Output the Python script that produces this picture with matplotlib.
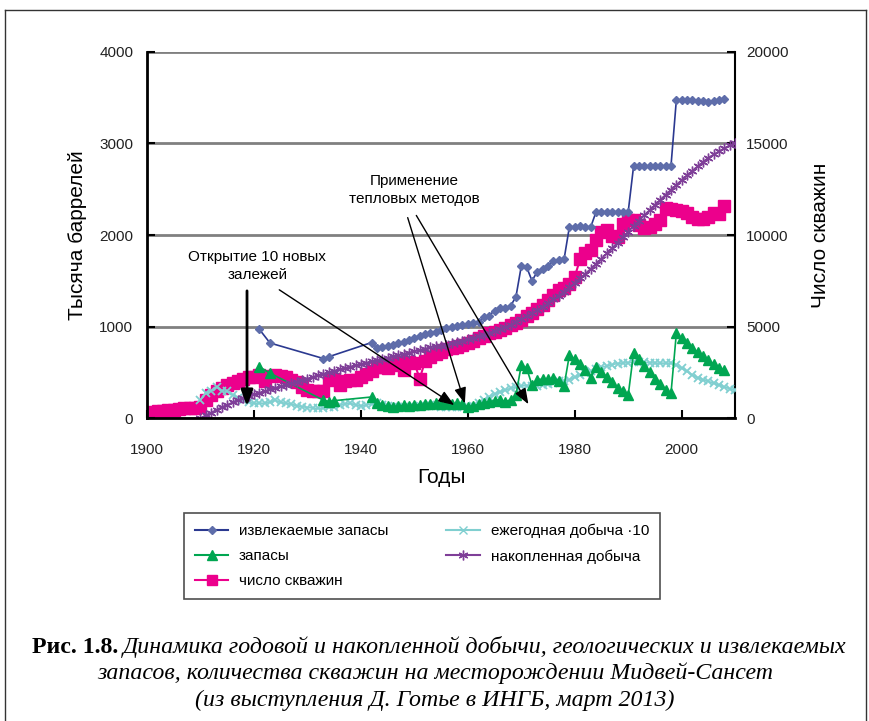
import matplotlib
matplotlib.use("Agg")
import matplotlib.pyplot as plt
from matplotlib.lines import Line2D

plt.rcParams['font.family'] = ['Liberation Sans', 'DejaVu Sans']

# извлекаемые запасы
rec_years = [1921, 1923, 1933, 1934, 1942, 1943, 1944, 1945, 1946, 1947, 1948, 1949,
             1950, 1951, 1952, 1953, 1954, 1955, 1956, 1957, 1958, 1959, 1960, 1961,
             1962, 1963, 1964, 1965, 1966, 1967, 1968, 1969, 1970, 1971, 1972, 1973,
             1974, 1975, 1976, 1977, 1978, 1979, 1980, 1981, 1982, 1983, 1984, 1985,
             1986, 1987, 1988, 1989, 1990, 1991, 1992, 1993, 1994, 1995, 1996, 1997,
             1998, 1999, 2000, 2001, 2002, 2003, 2004, 2005, 2006, 2007, 2008]
rec_vals = [970, 820, 650, 670, 825, 765, 780, 790, 800, 820, 830, 850,
            880, 900, 920, 930, 935, 960, 980, 1000, 1010, 1020, 1025, 1035,
            1050, 1100, 1120, 1175, 1205, 1200, 1225, 1325, 1660, 1650, 1500, 1600,
            1630, 1660, 1715, 1725, 1735, 2090, 2090, 2095, 2090, 2090, 2255, 2255,
            2255, 2255, 2255, 2255, 2255, 2750, 2750, 2755, 2750, 2750, 2750, 2750,
            2755, 3475, 3470, 3470, 3475, 3465, 3460, 3455, 3465, 3470, 3490]

# запасы
res_years = [1921, 1923, 1933, 1934, 1935, 1942, 1943, 1944, 1945, 1946, 1947, 1948,
             1949, 1950, 1951, 1952, 1953, 1954, 1955, 1956, 1957, 1958, 1959, 1960,
             1961, 1962, 1963, 1964, 1965, 1966, 1967, 1968, 1969, 1970, 1971, 1972,
             1973, 1974, 1975, 1976, 1977, 1978, 1979, 1980, 1981, 1982, 1983, 1984,
             1985, 1986, 1987, 1988, 1989, 1990, 1991, 1992, 1993, 1994, 1995, 1996,
             1997, 1998, 1999, 2000, 2001, 2002, 2003, 2004, 2005, 2006, 2007, 2008]
res_vals = [560, 490, 195, 180, 190, 230, 160, 140, 130, 125, 130, 140,
            130, 145, 140, 150, 150, 160, 150, 160, 150, 165, 150, 125,
            130, 150, 165, 180, 190, 200, 180, 200, 250, 580, 545, 360,
            420, 425, 425, 435, 410, 350, 690, 640, 590, 530, 440, 560,
            500, 450, 390, 330, 290, 250, 710, 640, 570, 500, 430, 370,
            310, 270, 925, 870, 820, 770, 720, 675, 630, 590, 550, 520]

# число скважин (правая ось)
well_years = list(range(1900, 2009))
well_vals = [250, 325, 375, 400, 425, 450, 475, 550, 575, 575,
             600, 1000, 1250, 1500, 1650, 1800, 1900, 2025, 2150, 2225,
             2250, 2350, 2000, 2300, 2350, 2275, 2250, 2100, 1975, 1700,
             1550, 1450, 1500, 1475, 2075, 2150, 1825, 2000, 2075, 2100,
             2250, 2400, 2550, 2800, 2800, 2725, 2900, 3075, 2625, 3075,
             3000, 2150, 3100, 3350, 3500, 3625, 3750, 3825, 3900, 3975,
             4075, 4200, 4350, 4500, 4625, 4725, 4800, 4925, 5075, 5200,
             5350, 5550, 5725, 5950, 6175, 6450, 6725, 7000, 7100, 7350,
             7725, 8675, 9000, 9175, 9725, 10175, 10300, 9950, 9900, 10625,
             10825, 10800, 10550, 10375, 10450, 10600, 10825, 11450, 11400, 11350,
             11300, 11200, 11000, 10850, 10900, 10975, 11200, 11175, 11600]

# ежегодная добыча x10 и накопленная добыча
prod_years = list(range(1910, 2011))
annual_vals = [200, 270, 300, 340, 300, 290, 250, 220, 195, 175,
               160, 165, 160, 175, 195, 170, 160, 150, 135, 125,
               115, 110, 105, 110, 120, 125, 140, 155, 160, 145,
               130, 140, 155, 160, 145, 130, 125, 125, 125, 120,
               125, 130, 135, 140, 130, 125, 125, 120, 120, 125,
               125, 135, 160, 195, 230, 260, 285, 305, 325, 340,
               350, 355, 350, 355, 360, 370, 385, 400, 410, 420,
               445, 470, 490, 510, 535, 555, 570, 585, 595, 600,
               605, 610, 612, 610, 605, 600, 600, 600, 600, 580,
               545, 510, 470, 440, 420, 400, 380, 360, 340, 320, 305]
cum_vals = [0, 30, 60, 90, 120, 145, 170, 195, 220, 240,
            258, 276, 294, 312, 330, 347, 364, 381, 398, 415,
            432, 449, 466, 483, 500, 516, 531, 546, 561, 576,
            590, 604, 618, 632, 646, 660, 674, 688, 702, 716,
            730, 744, 758, 772, 786, 790, 803, 816, 830, 845,
            860, 876, 893, 911, 930, 950, 972, 996, 1022, 1050,
            1080, 1112, 1146, 1181, 1218, 1256, 1296, 1338, 1382, 1428,
            1476, 1526, 1578, 1632, 1687, 1743, 1800, 1858, 1917, 1977,
            2037, 2097, 2156, 2215, 2273, 2330, 2386, 2441, 2495, 2548,
            2600, 2652, 2703, 2752, 2800, 2846, 2880, 2915, 2950, 2980, 3005]

fig = plt.figure(figsize=(8.7, 7.21), dpi=100)
ax = fig.add_axes([0.169, 0.4202, 0.676, 0.5077])
ax2 = ax.twinx()
ax.set_zorder(ax2.get_zorder() + 1)
ax.patch.set_visible(False)

c_blue, c_blue_m = '#2B3990', '#5E6DAA'
c_green = '#00A651'
c_pink = '#EC008C'
c_teal = '#80CFD0'
c_purple = '#7F3F98'

ax2.plot(well_years, well_vals, color=c_pink, lw=1.5, marker='s', ms=8,
         mec=c_pink, mfc=c_pink)
ax.plot(prod_years, annual_vals, color=c_teal, lw=1.2, marker='x', ms=6, mew=1.3)
ax.plot(res_years, res_vals, color=c_green, lw=1.2, marker='^', ms=7, mec=c_green)
ax.plot(prod_years, cum_vals, color=c_purple, lw=1.2, marker=(6, 2, 0), ms=7, mew=1.0)
ax.plot(rec_years, rec_vals, color=c_blue, lw=1.2, marker='D', ms=4,
        mfc=c_blue_m, mec=c_blue_m)

ax.set_xlim(1900, 2010)
ax.set_ylim(0, 4000)
ax2.set_ylim(0, 20000)
ax.set_xticks(range(1900, 2001, 20))
ax.set_yticks(range(0, 4001, 1000))
ax2.set_yticks(range(0, 20001, 5000))
ax2.grid(axis='y', color='#808080', lw=2)
ax2.set_axisbelow(True)

for a in (ax, ax2):
    a.spines['top'].set_visible(False)
    a.tick_params(direction='in', labelsize=11, labelcolor='#222222', width=1.5, length=6)
ax.tick_params(axis='x', pad=18)
ax.tick_params(axis='y', pad=10)
ax2.tick_params(axis='y', pad=8)
ax.spines['left'].set_linewidth(2)
ax.spines['bottom'].set_linewidth(2)
ax2.spines['right'].set_linewidth(1.5)
ax.spines['right'].set_visible(False)
ax2.spines['left'].set_visible(False)
ax2.spines['bottom'].set_visible(False)

ax.set_xlabel('Годы', fontsize=15, labelpad=8)
ax.set_ylabel('Тысяча баррелей', fontsize=15, labelpad=9)
ax2.set_ylabel('Число скважин', fontsize=15, labelpad=16)

# подписи со стрелками
ax.text(1920.6, 1661, 'Открытие 10 новых\nзалежей', ha='center', va='center',
        fontsize=11, linespacing=1.4)
ax.text(1950.0, 2490, 'Применение\nтепловых методов', ha='center', va='center',
        fontsize=11, linespacing=1.4)
head = '-|>,head_length=0.8,head_width=0.3'
ax.annotate('', xy=(1918.7, 100), xytext=(1918.7, 1420),
            arrowprops=dict(arrowstyle=head, color='black', lw=2, mutation_scale=12))
for start, tip in [((1924.3, 1418), (1957.9, 125)),
                   ((1948.6, 2219), (1959.6, 130)),
                   ((1950.1, 2240), (1971.6, 125))]:
    ax.annotate('', xy=tip, xytext=start,
                arrowprops=dict(arrowstyle=head, color='black', lw=1, mutation_scale=12))

handles = [
    Line2D([], [], color=c_blue, marker='D', ms=4, mfc=c_blue_m, mec=c_blue_m),
    Line2D([], [], color=c_green, marker='^', ms=7),
    Line2D([], [], color=c_pink, marker='s', ms=7),
    Line2D([], [], color=c_teal, marker='x', ms=6),
    Line2D([], [], color=c_purple, marker=(6, 2, 0), ms=7),
]
labels = ['извлекаемые запасы', 'запасы', 'число скважин',
          'ежегодная добыча ·10', 'накопленная добыча']
leg = fig.legend(handles, labels, ncol=2, loc='center', bbox_to_anchor=(0.485, 0.229),
                 fontsize=11, frameon=True, fancybox=False, edgecolor='#222222',
                 columnspacing=3.8, handlelength=2.2, handletextpad=0.7,
                 borderpad=0.7, labelspacing=0.72)
leg.get_frame().set_linewidth(1.2)

# рамка рисунка
fig.add_artist(Line2D([0.006, 0.006], [0, 0.986], color='#333333', lw=1))
fig.add_artist(Line2D([0.995, 0.995], [0, 0.986], color='#333333', lw=1))
fig.add_artist(Line2D([0.006, 0.995], [0.986, 0.986], color='#333333', lw=1))

# подпись рисунка
serif = ['Liberation Serif', 'DejaVu Serif']
cap_size = 17.2
t1 = fig.text(32 / 870, 0.1026, 'Рис. 1.8.', fontsize=cap_size, family=serif,
              weight='bold', ha='left', va='center')
fig.canvas.draw()
bb = t1.get_window_extent()
fig.text((bb.x1 + 5) / 870, 0.1026,
         'Динамика годовой и накопленной добычи, геологических и извлекаемых',
         fontsize=cap_size, family=serif, style='italic', ha='left', va='center')
fig.text(0.5, 0.0666, 'запасов, количества скважин на месторождении Мидвей-Сансет',
         fontsize=cap_size, family=serif, style='italic', ha='center', va='center')
fig.text(0.5, 0.0291, '(из выступления Д. Готье в ИНГБ, март 2013)',
         fontsize=cap_size, family=serif, style='italic', ha='center', va='center')

fig.savefig('out.png', dpi=100)
